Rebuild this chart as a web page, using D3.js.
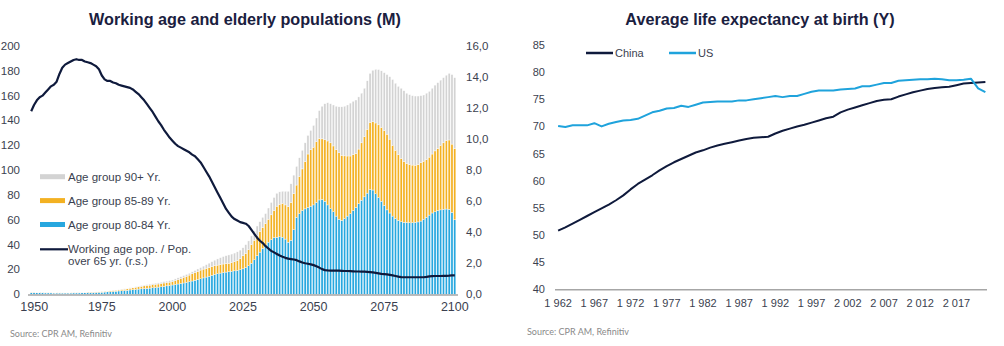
<!DOCTYPE html>
<html lang="en">
<head>
<meta charset="UTF-8">
<title>Working age, elderly populations and life expectancy</title>
<script src="https://d3js.org/d3.v7.min.js"></script>
<style>
    body { margin: 0; background: #fff; }
    text { font-family: "Liberation Sans", Arial, sans-serif; fill: #3b3f4f; }
    .title { font-weight: bold; fill: #1a2040; }
    .src { font-family: Lato, "Open Sans", sans-serif; fill: #8a8a8a; }
</style>
</head>
<body>
<div id="fig"></div>
<script>
    // ---- left chart data (M people, stacked tops are cumulative) ----
    let years = d3.range(1950, 2101)
    let age80_84 = [
        1.3,1.3,1.2,1.2,1.2,1.1,1.1,1.1,1.0,1.0,
        1.0,1.0,1.0,1.0,1.0,1.1,1.1,1.1,1.2,1.2,
        1.3,1.3,1.4,1.5,1.6,1.7,1.8,2.0,2.1,2.3,
        2.5,2.7,2.9,3.1,3.3,3.5,3.7,3.9,4.2,4.4,
        4.6,4.8,5.0,5.3,5.5,5.8,6.1,6.4,6.8,7.1,
        7.5,7.9,8.3,8.7,9.1,9.6,10.1,10.7,11.3,11.9,
        12.5,13.2,13.9,14.6,15.3,16.0,16.6,17.1,17.5,17.9,
        18.2,18.5,18.9,19.3,19.8,20.5,21.5,23.0,25.0,27.8,
        31.0,34.0,37.0,39.7,42.0,44.0,45.5,46.0,46.3,46.0,
        44.5,42.0,43.5,52.0,62.0,65.0,67.5,68.8,70.0,71.0,
        72.0,74.0,76.0,76.5,75.0,72.0,69.0,66.5,63.0,60.5,
        59.5,61.0,63.0,65.0,67.5,70.0,73.0,75.8,78.5,81.5,
        84.5,84.0,81.0,78.0,75.0,71.5,68.0,65.5,63.0,61.0,
        59.5,58.5,58.0,57.8,57.7,57.7,58.0,58.3,59.0,60.5,
        62.0,63.8,65.5,66.5,67.5,68.0,68.5,68.7,68.5,66.0,
        60.0]
    let topTo89 = [
        1.5,1.5,1.4,1.4,1.4,1.3,1.3,1.3,1.2,1.2,
        1.2,1.2,1.2,1.2,1.2,1.3,1.3,1.3,1.4,1.5,
        1.6,1.6,1.7,1.8,2.0,2.1,2.3,2.5,2.7,2.9,
        3.2,3.5,3.8,4.1,4.4,4.8,5.2,5.6,6.0,6.4,
        6.8,7.1,7.4,7.7,8.0,8.3,8.7,9.1,9.5,9.8,
        10.2,11.0,11.8,12.7,13.6,14.5,15.5,16.5,17.5,18.5,
        19.5,20.3,21.0,21.7,22.3,23.0,23.5,24.0,24.4,24.7,
        25.0,25.5,26.3,27.3,28.8,31.0,33.0,36.0,40.0,43.5,
        47.0,50.5,54.0,57.0,60.5,64.0,67.5,71.0,72.5,73.3,
        72.0,70.6,74.0,81.0,88.0,95.0,101.0,107.0,113.0,116.5,
        118.5,123.0,125.6,125.2,124.5,123.5,122.0,119.5,116.5,114.0,
        112.0,111.5,111.4,111.4,112.5,113.5,117.0,122.0,127.0,133.0,
        138.5,139.0,138.0,136.5,134.5,132.0,129.0,125.0,120.0,116.0,
        112.5,109.5,107.0,105.5,104.5,104.1,104.0,104.5,106.0,107.2,
        108.5,110.5,113.0,115.5,117.5,120.0,122.0,124.0,124.3,121.0,
        117.5]
    let topTotal = [
        1.6,1.6,1.5,1.5,1.5,1.4,1.4,1.4,1.3,1.3,
        1.3,1.3,1.3,1.3,1.3,1.4,1.4,1.4,1.5,1.6,
        1.7,1.7,1.8,1.9,2.1,2.2,2.4,2.6,2.8,3.1,
        3.4,3.7,4.0,4.4,4.8,5.2,5.6,6.1,6.6,7.0,
        7.5,7.8,8.2,8.5,8.9,9.2,9.7,10.2,10.6,11.0,
        11.5,12.4,13.3,14.2,15.1,16.0,17.0,18.1,19.2,20.4,
        21.5,22.7,23.9,25.1,26.3,27.5,28.5,29.5,30.4,31.1,
        31.7,32.4,33.2,34.2,35.6,37.5,40.0,43.0,47.0,51.0,
        55.0,58.5,62.0,65.0,69.5,74.0,78.0,81.4,82.5,83.0,
        83.0,83.0,89.0,96.0,103.0,110.0,116.0,122.0,128.0,132.0,
        136.0,142.0,148.0,151.5,153.5,154.3,153.5,152.5,151.5,151.0,
        151.0,151.5,152.5,154.0,155.5,156.5,159.0,162.0,166.0,172.0,
        178.0,180.5,181.2,181.0,180.0,178.5,177.0,175.3,173.0,170.0,
        167.5,166.0,164.0,162.0,160.8,160.0,159.7,159.7,160.0,160.5,
        162.0,163.5,166.0,168.5,170.5,172.5,174.5,176.5,178.0,177.0,
        174.5]
    let workRatio = [
        11.8,12.2,12.5,12.7,12.8,13.0,13.2,13.4,13.5,13.7,
        14.2,14.6,14.8,14.9,15.0,15.1,15.15,15.1,15.1,15.0,
        14.95,14.9,14.8,14.7,14.5,14.1,13.85,13.75,13.75,13.65,
        13.6,13.5,13.45,13.4,13.35,13.3,13.2,13.05,12.9,12.7,
        12.5,12.25,12.0,11.75,11.45,11.15,10.9,10.6,10.35,10.1,
        9.9,9.7,9.55,9.45,9.35,9.25,9.15,9.0,8.9,8.7,
        8.5,8.2,7.9,7.6,7.25,6.9,6.55,6.2,5.85,5.5,
        5.25,5.0,4.85,4.75,4.65,4.6,4.55,4.4,4.15,3.9,
        3.65,3.45,3.3,3.1,2.95,2.8,2.7,2.6,2.5,2.42,
        2.35,2.3,2.27,2.24,2.2,2.12,2.05,2.0,1.97,1.93,
        1.88,1.8,1.72,1.62,1.56,1.54,1.53,1.52,1.52,1.52,
        1.51,1.5,1.5,1.49,1.48,1.47,1.47,1.46,1.46,1.45,
        1.43,1.41,1.38,1.35,1.32,1.3,1.28,1.25,1.22,1.18,
        1.14,1.11,1.1,1.1,1.1,1.1,1.1,1.1,1.1,1.1,
        1.12,1.15,1.17,1.18,1.18,1.18,1.19,1.19,1.2,1.22,
        1.22]
    let leftTicks = [0, 20, 40, 60, 80, 100, 120, 140, 160, 180, 200]
    let rightTicks = [0, 2, 4, 6, 8, 10, 12, 14, 16]
    let yearTicks = [1950, 1975, 2000, 2025, 2050, 2075, 2100]

    // ---- right chart data (years) ----
    let lifeYears = d3.range(1962, 2022)
    let china = [
        50.8,51.4,52.1,52.8,53.5,54.2,54.9,55.6,56.4,57.3,
        58.4,59.4,60.2,61.0,61.9,62.7,63.4,64.0,64.6,65.2,
        65.6,66.1,66.5,66.8,67.1,67.4,67.7,67.9,68.0,68.1,
        68.7,69.2,69.6,70.0,70.3,70.7,71.1,71.5,71.8,72.6,
        73.1,73.5,73.9,74.3,74.7,74.9,75.0,75.5,75.9,76.3,
        76.6,76.9,77.1,77.2,77.3,77.6,77.9,78.0,78.1,78.2]
    let us = [
        70.1,69.9,70.2,70.2,70.2,70.6,70.0,70.5,70.8,71.1,
        71.2,71.4,72.0,72.6,72.9,73.3,73.4,73.8,73.6,74.0,
        74.4,74.5,74.6,74.6,74.6,74.8,74.8,75.0,75.2,75.4,
        75.6,75.4,75.6,75.6,76.0,76.4,76.6,76.6,76.6,76.8,
        76.9,77.0,77.4,77.4,77.7,78.0,78.0,78.4,78.5,78.6,
        78.7,78.7,78.8,78.7,78.5,78.5,78.6,78.8,77.0,76.3]
    let lifeTicks = [40, 45, 50, 55, 60, 65, 70, 75, 80, 85]
    let lifeYearTicks = [1962, 1967, 1972, 1977, 1982, 1987, 1992, 1997, 2002, 2007, 2012, 2017]

    let svg = d3.select("#fig").append("svg")
        .attr("width", 1004).attr("height", 346)

    // ================= left chart =================
    let x = d3.scaleBand().domain(years).range([30, 456]).paddingInner(0.25).paddingOuter(0.05)
    let yL = d3.scaleLinear().domain([0, 200]).range([294.3, 46])
    let yR = d3.scaleLinear().domain([0, 16]).range([294.3, 46])

    let stacks = [
        {name: "Age group 80-84 Yr.", color: "#27a7df", lo: years.map(() => 0), hi: age80_84},
        {name: "Age group 85-89 Yr.", color: "#f3b122", lo: age80_84, hi: topTo89},
        {name: "Age group 90+ Yr.", color: "#d3d3d3", lo: topTo89, hi: topTotal}
    ]
    let left = svg.append("g")
    stacks.forEach(function (s) {
        left.append("g").selectAll("rect").data(years).join("rect")
            .attr("x", d => x(d))
            .attr("width", x.bandwidth())
            .attr("y", (d, i) => yL(s.hi[i]))
            .attr("height", (d, i) => Math.max(0, yL(s.lo[i]) - yL(s.hi[i])))
            .attr("fill", s.color)
            .attr("stroke", "#fff").attr("stroke-width", 0.4)
    })

    left.append("line").attr("x1", 28).attr("x2", 458)
        .attr("y1", 295).attr("y2", 295)
        .attr("stroke", "#a6a6a6").attr("stroke-width", 1.5)

    left.append("path").datum(workRatio)
        .attr("fill", "none").attr("stroke", "#0f1a3c").attr("stroke-width", 2.2)
        .attr("stroke-linejoin", "round")
        .attr("d", d3.line().x((d, i) => x(years[i]) + x.bandwidth() / 2).y(d => yR(d)))

    left.append("g").selectAll("text").data(leftTicks).join("text")
        .attr("x", 20).attr("y", d => yL(d) + 4).attr("text-anchor", "end")
        .attr("font-size", 11.5).text(d => d)
    left.append("g").selectAll("text").data(rightTicks).join("text")
        .attr("x", 466).attr("y", d => yR(d) + 4)
        .attr("font-size", 11.5).text(d => d.toFixed(1).replace(".", ","))
    left.append("g").selectAll("text").data(yearTicks).join("text")
        .attr("x", d => x(d) + x.bandwidth() / 2 + (d === 1950 ? 3 : 0)).attr("y", 311)
        .attr("text-anchor", "middle").attr("font-size", 12.5).text(d => d)

    left.append("text").attr("class", "title").attr("x", 245).attr("y", 25)
        .attr("text-anchor", "middle").attr("font-size", 16.2)
        .text("Working age and elderly populations (M)")

    // legend
    let legendRows = [stacks[2], stacks[1], stacks[0]]
    let lg = left.append("g")
    legendRows.forEach(function (s, i) {
        let yy = 176.7 + i * 23.9
        lg.append("rect").attr("x", 40).attr("y", yy - 2.5).attr("width", 25).attr("height", 5)
            .attr("fill", s.color)
        lg.append("text").attr("x", 68).attr("y", yy + 4).attr("font-size", 11.5).text(s.name)
    })
    lg.append("line").attr("x1", 40).attr("x2", 68).attr("y1", 249.3).attr("y2", 249.3)
        .attr("stroke", "#0f1a3c").attr("stroke-width", 2.2)
    lg.append("text").attr("x", 68).attr("y", 253.3).attr("font-size", 11.5)
        .text("Working age pop. / Pop.")
    lg.append("text").attr("x", 68).attr("y", 265.3).attr("font-size", 11.5)
        .text("over 65 yr. (r.s.)")

    svg.append("text").attr("class", "src").attr("x", 10).attr("y", 337)
        .attr("font-size", 9).text("Source: CPR AM, Refinitiv")

    // ================= right chart =================
    let x2 = d3.scaleBand().domain(lifeYears).range([554.5, 989])
    let y2 = d3.scaleLinear().domain([40, 85]).range([289.3, 45])
    let right = svg.append("g")

    right.append("line").attr("x1", 555).attr("x2", 987)
        .attr("y1", 289.8).attr("y2", 289.8)
        .attr("stroke", "#a6a6a6").attr("stroke-width", 1.5)

    let lines = [{name: "China", color: "#0f1a3c", values: china}, {name: "US", color: "#1fa3dc", values: us}]
    lines.forEach(function (s) {
        right.append("path").datum(s.values)
            .attr("fill", "none").attr("stroke", s.color).attr("stroke-width", 2)
            .attr("stroke-linejoin", "round")
            .attr("d", d3.line().x((d, i) => x2(lifeYears[i]) + x2.bandwidth() / 2).y(d => y2(d)))
    })

    right.append("g").selectAll("text").data(lifeTicks).join("text")
        .attr("x", 545).attr("y", d => y2(d) + 4).attr("text-anchor", "end")
        .attr("font-size", 11).text(d => d)
    right.append("g").selectAll("text").data(lifeYearTicks).join("text")
        .attr("x", d => x2(d) + x2.bandwidth() / 2).attr("y", 307)
        .attr("text-anchor", "middle").attr("font-size", 11)
        .text(d => String(d)[0] + " " + String(d).slice(1))

    right.append("text").attr("class", "title").attr("x", 760).attr("y", 25)
        .attr("text-anchor", "middle").attr("font-size", 16.2)
        .text("Average life expectancy at birth (Y)")

    let legendX = [586, 669]
    lines.forEach(function (s, i) {
        right.append("line").attr("x1", legendX[i]).attr("x2", legendX[i] + 27)
            .attr("y1", 53).attr("y2", 53).attr("stroke", s.color).attr("stroke-width", 2.5)
        right.append("text").attr("x", legendX[i] + 29).attr("y", 57)
            .attr("font-size", 11).text(s.name)
    })

    svg.append("text").attr("class", "src").attr("x", 527).attr("y", 335)
        .attr("font-size", 9).text("Source: CPR AM, Refinitiv")
</script>
</body>
</html>
